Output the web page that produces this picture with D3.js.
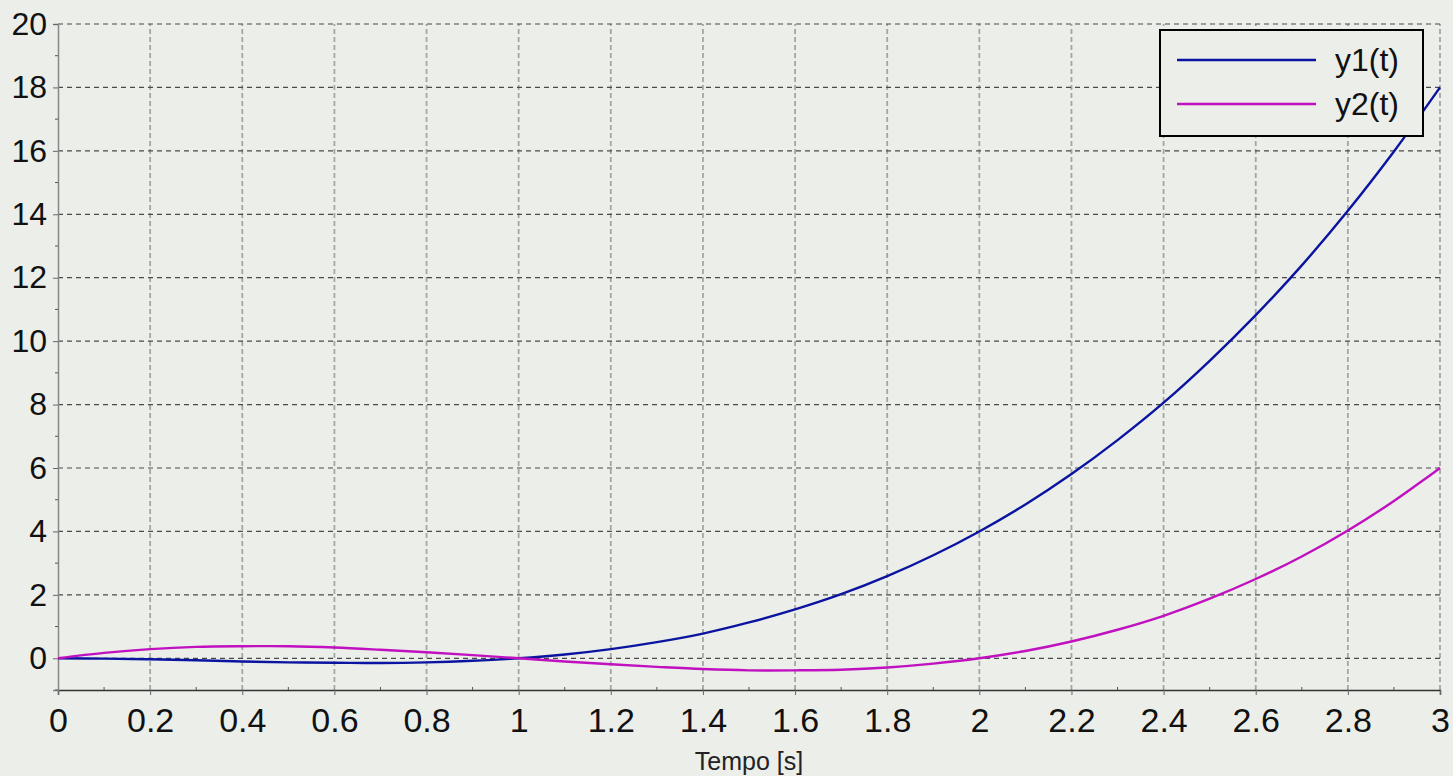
<!DOCTYPE html>
<html>
<head>
<meta charset="utf-8">
<script src="https://cdn.jsdelivr.net/npm/d3@7"></script>
<style>
  body { margin: 0; background: #eceee9; }
  svg { display: block; font-family: "Liberation Sans", Arial, sans-serif; }
</style>
</head>
<body>
<div id="chart"></div>
<script>

// time samples (s)
var tempo = [0, 0.1, 0.2, 0.3, 0.4, 0.5, 0.6, 0.7, 0.8, 0.9, 1.0,
    1.1, 1.2, 1.3, 1.4, 1.5, 1.6, 1.7, 1.8, 1.9, 2.0,
    2.1, 2.2, 2.3, 2.4, 2.5, 2.6, 2.7, 2.8, 2.9, 3.0];

var y1 = [0, -0.01, -0.03, -0.06, -0.10, -0.13, -0.14, -0.15, -0.13, -0.08, 0,
    0.12, 0.29, 0.51, 0.78, 1.13, 1.54, 2.02, 2.59, 3.25, 4.0,
    4.85, 5.81, 6.88, 8.06, 9.38, 10.82, 12.39, 14.11, 15.98, 18.0];

var y2 = [0, 0.17, 0.29, 0.36, 0.38, 0.38, 0.34, 0.27, 0.19, 0.10, 0,
    -0.10, -0.19, -0.27, -0.34, -0.38, -0.38, -0.36, -0.29, -0.17, 0,
    0.23, 0.53, 0.90, 1.34, 1.88, 2.50, 3.21, 4.03, 4.96, 6.0];

var seriesNames = ["y1(t)", "y2(t)"];
var seriesColors = ["#0a14a0", "#c010c0"];

var xTicks = [0, 0.2, 0.4, 0.6, 0.8, 1, 1.2, 1.4, 1.6, 1.8, 2, 2.2, 2.4, 2.6, 2.8, 3];
var yTicks = [0, 2, 4, 6, 8, 10, 12, 14, 16, 18, 20];

var width = 1453, height = 776;
var margin = {left: 58, right: 13, top: 24, bottom: 86};

var svg = d3.select("#chart").append("svg")
    .attr("width", width)
    .attr("height", height);

var x = d3.scaleLinear().domain([0, 3]).range([margin.left, width - margin.right]);
var y = d3.scaleLinear().domain([-1, 20]).range([height - margin.bottom, margin.top]);

// grid
var grid = svg.append("g");
grid.selectAll(".vgrid")
    .data(xTicks.slice(1))
    .enter().append("line")
    .attr("x1", function (d) { return x(d); })
    .attr("x2", function (d) { return x(d); })
    .attr("y1", y(-1))
    .attr("y2", y(20))
    .attr("stroke", "#a4a6a2")
    .attr("stroke-width", 1.8)
    .attr("stroke-dasharray", "5,3");

grid.selectAll(".hgrid")
    .data(yTicks)
    .enter().append("line")
    .attr("x1", x(0))
    .attr("x2", x(3))
    .attr("y1", function (d) { return y(d); })
    .attr("y2", function (d) { return y(d); })
    .attr("stroke", "#4a4a4a")
    .attr("stroke-width", 1.2)
    .attr("stroke-dasharray", "5,4");

// axes
var xAxis = d3.axisBottom(x)
    .tickValues(xTicks)
    .tickSize(5)
    .tickPadding(13)
    .tickFormat(function (d) { return d3.format("~g")(d); });

var gx = svg.append("g")
    .attr("transform", "translate(0," + y(-1) + ")")
    .call(xAxis);
gx.select(".domain").attr("stroke", "#333").attr("stroke-width", 1.5);
gx.selectAll(".tick line").attr("stroke", "#666");
gx.selectAll("text").attr("font-size", 34).attr("fill", "#111");

var xMinor = d3.range(0.1, 3, 0.2);
svg.append("g").selectAll("line")
    .data(xMinor)
    .enter().append("line")
    .attr("x1", function (d) { return x(d); })
    .attr("x2", function (d) { return x(d); })
    .attr("y1", y(-1))
    .attr("y2", y(-1) - 3)
    .attr("stroke", "#555");

var yAxis = d3.axisLeft(y)
    .tickValues(yTicks)
    .tickSize(5)
    .tickPadding(6);

var gy = svg.append("g")
    .attr("transform", "translate(" + x(0) + ",0)")
    .call(yAxis);
gy.select(".domain").attr("stroke", "#888").attr("stroke-width", 1.5);
gy.selectAll(".tick line").attr("stroke", "#666");
gy.selectAll("text").attr("font-size", 32).attr("fill", "#111");

var yMinor = d3.range(-1, 20, 2);
svg.append("g").selectAll("line")
    .data(yMinor)
    .enter().append("line")
    .attr("x1", x(0))
    .attr("x2", x(0) - 3)
    .attr("y1", function (d) { return y(d); })
    .attr("y2", function (d) { return y(d); })
    .attr("stroke", "#555");

svg.append("text")
    .attr("x", (x(0) + x(3)) / 2)
    .attr("y", 770)
    .attr("text-anchor", "middle")
    .attr("font-size", 25)
    .attr("fill", "#222")
    .text("Tempo [s]");

// curves
var line = d3.line()
    .x(function (d) { return x(d[0]); })
    .y(function (d) { return y(d[1]); })
    .curve(d3.curveCatmullRom);

[y1, y2].forEach(function (vals, i) {
    svg.append("path")
        .datum(tempo.map(function (t, j) { return [t, vals[j]]; }))
        .attr("fill", "none")
        .attr("stroke", seriesColors[i])
        .attr("stroke-width", 2.4)
        .attr("d", line);
});

// legend
var legend = svg.append("g").attr("transform", "translate(1160,30)");
legend.append("rect")
    .attr("width", 263)
    .attr("height", 106)
    .attr("fill", "#eceee9")
    .attr("stroke", "#000")
    .attr("stroke-width", 2);

var item = legend.selectAll(".item")
    .data(seriesNames)
    .enter().append("g")
    .attr("transform", function (d, i) { return "translate(0," + (30 + i * 44) + ")"; });

item.append("line")
    .attr("x1", 17)
    .attr("x2", 156)
    .attr("stroke", function (d, i) { return seriesColors[i]; })
    .attr("stroke-width", 2.5);

item.append("text")
    .attr("x", 175)
    .attr("y", 11)
    .attr("font-size", 32)
    .attr("fill", "#111")
    .text(function (d) { return d; });

</script>
</body>
</html>
